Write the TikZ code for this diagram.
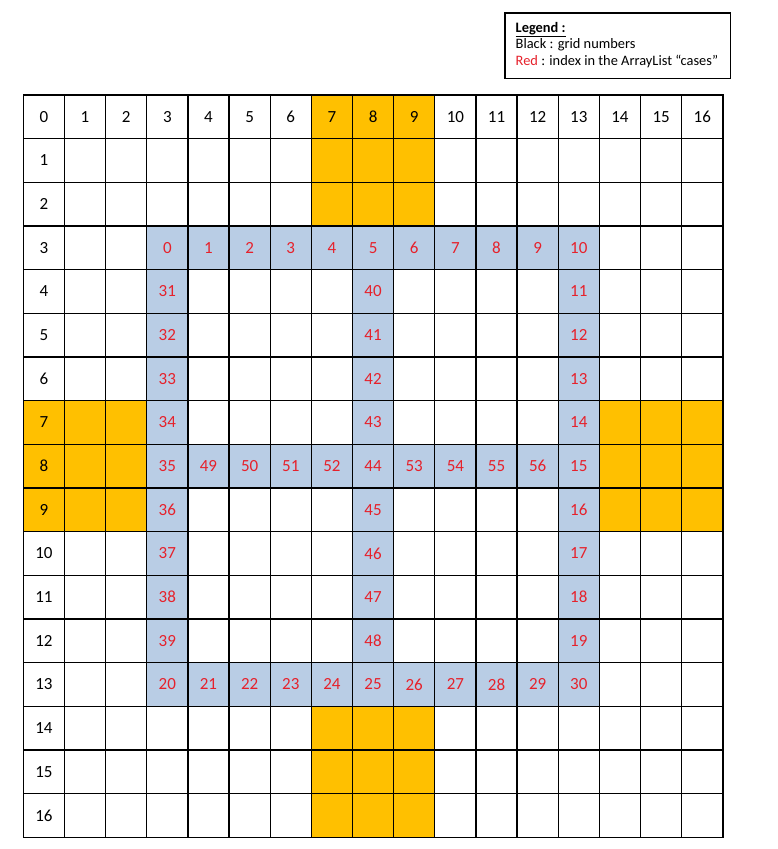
\documentclass[tikz,border=0pt]{standalone}
\usepackage{fontspec}
\setmainfont{Carlito}
\usetikzlibrary{decorations.pathmorphing}
\definecolor{cellblue}{HTML}{B9CDE5}
\definecolor{cellorange}{HTML}{FFC000}
\definecolor{idxred}{HTML}{E6212B}
\definecolor{spellgreen}{HTML}{2E9E3A}
\newlength\sqwa
\newlength\sqwb
\newcommand\legfont{\fontsize{14.4}{17}\selectfont}
\begin{document}
\begin{tikzpicture}[x=1pt,y=-1pt,
  cell/.style={draw=black, line width=1.3pt, minimum width=41.15pt, minimum height=43.66pt,
    inner sep=0pt, outer sep=0pt, font=\fontsize{17}{19}\selectfont},
  legtext/.style={anchor=base west, inner sep=0pt, outer sep=0pt, font=\legfont},
  squig/.style={draw=#1, line width=0.6pt, decorate,
    decoration={snake, amplitude=0.7pt, segment length=2.6pt}}]
\useasboundingbox[fill=white] (0,0) rectangle (777,849);

\foreach \row in {0,...,16}{
  \foreach \col in {0,...,16}{
    \def\cf{white}\def\ct{}\def\tc{black}
    \ifnum\col>6 \ifnum\col<10 \ifnum\row<3 \def\cf{cellorange}\fi \ifnum\row>13 \def\cf{cellorange}\fi \fi\fi
    \ifnum\row>6 \ifnum\row<10 \ifnum\col<3 \def\cf{cellorange}\fi \ifnum\col>13 \def\cf{cellorange}\fi \fi\fi
    \ifnum\row=0 \edef\ct{\col}\fi
    \ifnum\col=0 \edef\ct{\row}\fi
    \ifnum\row>2 \ifnum\row<14 \ifnum\col>2 \ifnum\col<14
      \ifnum\row=3 \def\cf{cellblue}\pgfmathtruncatemacro\ct{\col-3}\fi
      \ifnum\row=13 \def\cf{cellblue}\pgfmathtruncatemacro\ct{\col+17}\fi
      \ifnum\row=8 \def\cf{cellblue}\pgfmathtruncatemacro\ct{\col<8 ? \col+45 : \col+44}\fi
      \ifnum\row>3 \ifnum\row<13
        \ifnum\col=3 \def\cf{cellblue}\pgfmathtruncatemacro\ct{\row+27}\fi
        \ifnum\col=8 \def\cf{cellblue}\pgfmathtruncatemacro\ct{\row+36}\fi
        \ifnum\col=13 \def\cf{cellblue}\pgfmathtruncatemacro\ct{\row+7}\fi
      \fi\fi
      \def\tc{idxred}
    \fi\fi\fi\fi
    \node[cell, fill=\cf, text=\tc] (c\row-\col) at ({23.3+41.15*(\col+0.5)},{95+43.66*(\row+0.5)}) {\ct};
  }
}

% legend
\node[draw=black, line width=1.2pt, minimum width=225.7pt, minimum height=65.4pt,
  anchor=north west, inner sep=0pt] (legbox) at (504.3,12.3) {};
\node[legtext] (leg1) at (515.7,32.3) {\textbf{\underline{Legend :}}};
\node[legtext] (leg2) at (515.7,48.8) {Black : grid numbers};
\node[legtext] (leg3) at (515.7,65.5) {\textcolor{idxred}{Red} : index in the ArrayList “cases”};

\settowidth\sqwb{\legfont\bfseries Legend}
\draw[squig=red] ([yshift=-3.2pt]leg1.base west) -- ++(\sqwb,0);
\settowidth\sqwa{\legfont Black : }
\settowidth\sqwb{\legfont grid numbers}
\draw[squig=red] ([xshift=\sqwa,yshift=-2.6pt]leg2.base west) -- ++(\sqwb,0);
\settowidth\sqwb{\legfont Red :}
\draw[squig=spellgreen] ([yshift=-2.6pt]leg3.base west) -- ++(\sqwb,0);
\settowidth\sqwa{\legfont Red : index in the }
\settowidth\sqwb{\legfont ArrayList}
\draw[squig=red] ([xshift=\sqwa,yshift=-2.6pt]leg3.base west) -- ++(\sqwb,0);
\end{tikzpicture}
\end{document}
